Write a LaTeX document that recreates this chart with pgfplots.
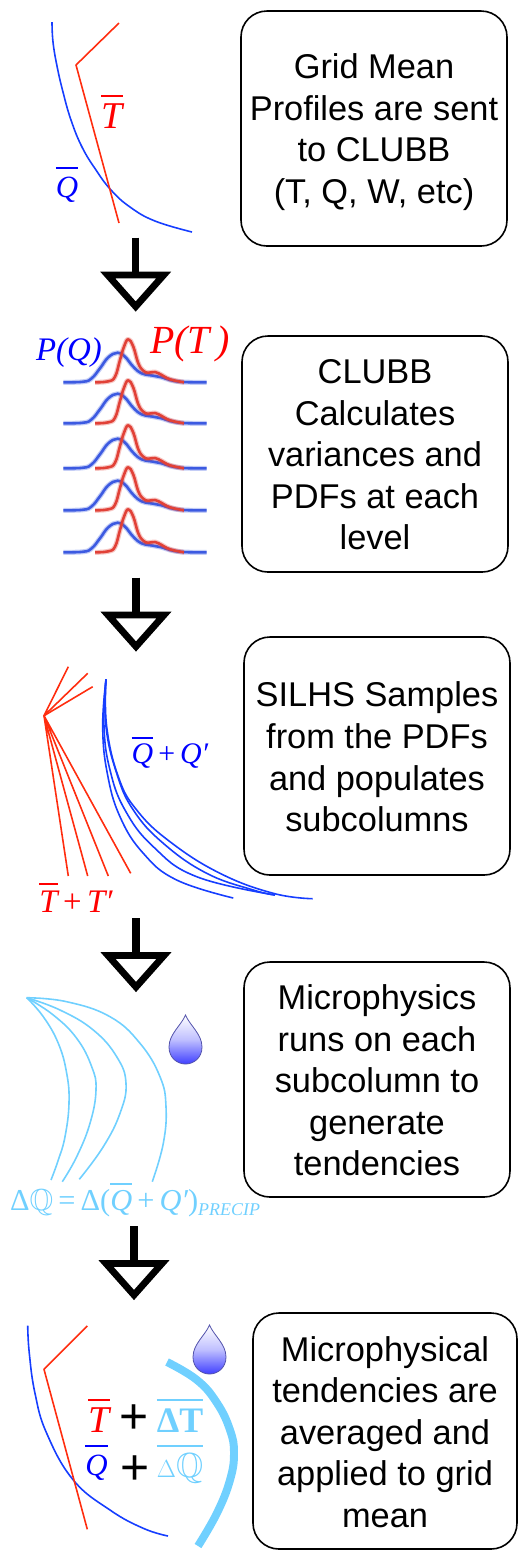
\documentclass[border=0pt]{standalone}
\usepackage{fontspec}
\usepackage{amssymb}
\usepackage{pgfplots}
\usepackage{pgfplotstable}
\pgfplotsset{compat=1.18}
\setmainfont{Liberation Sans}
\newfontfamily\ser{Liberation Serif}
\definecolor{qblue}{RGB}{22,62,255}
\definecolor{tred}{RGB}{255,45,15}
\definecolor{lblue}{RGB}{0,0,255}
\definecolor{lred}{RGB}{255,0,0}
\definecolor{cyanl}{RGB}{112,208,255}
\definecolor{pdfb}{RGB}{60,90,225}
\definecolor{pdfr}{RGB}{225,65,55}
\newcommand\sz[1]{\fontsize{#1}{#1}\selectfont}
\newcommand\ov[2][.75em]{\leavevmode\vbox{\hrule height .055em\kern .07em\hbox{\vrule height #1 width 0pt #2}}}
\newcommand\mi[1]{{\ser\itshape #1}}

\pgfplotstableread{
x y
63.3 382.3
83.3 381.7
91.7 378.3
100 368.3
108.3 357.3
117.7 352.7
125 356.7
133.3 366.7
141.7 373.3
153.3 375.7
161.7 377.3
170 380
183.3 382
206.7 382.3
}\pdfq
\pgfplotstableread{
x y
95 382.3
108.3 381.3
115 376.7
120 360
124 346.7
128.3 339.3
133.3 346.7
138.3 363.3
143.3 370.7
148.3 372.7
155 372
161.7 375
170 379.3
184 382.3
}\pdft
\pgfplotstableread{
x y
0 0
0 37
}\stem
\pgfplotstableread{
x y
-28 37.5
28 37.5
0 69
}\head

\newcommand\bx[6][1]{%
  \draw[black,line width=1.6pt,rounded corners=26pt] (axis cs:#2,#3) rectangle (axis cs:#4,#5);
  \node[align=center,inner sep=0pt,font=\fontsize{34.5}{41.7}\selectfont] at (axis cs:{(#2+#4)/2},{(#3+#5)/2+#1}) {#6};
}
\newcommand\arrowdown[2]{% x of stem, top of stem
  \addplot[black,line width=7.4pt,line cap=butt] table[x expr=\thisrow{x}+#1,y expr=\thisrow{y}+#2] {\stem};
  \addplot[black,line width=6.8pt,line join=miter,miter limit=10,fill=white] table[x expr=\thisrow{x}+#1,y expr=\thisrow{y}+#2] {\head} -- cycle;
}
\newcommand\drop[2]{%
  \shade[top color=white,bottom color=blue!75!white,middle color=blue!25!white,draw=blue!35!gray,line width=0.8pt,shift={(axis cs:#1,#2)}]
    (0,0) .. controls (-4bp,-10bp) and (-16.5bp,-19bp) .. (-16.5bp,-32bp)
    .. controls (-16.5bp,-43bp) and (-8bp,-49bp) .. (0,-49bp)
    .. controls (8bp,-49bp) and (16.5bp,-43bp) .. (16.5bp,-32bp)
    .. controls (16.5bp,-19bp) and (4bp,-10bp) .. (0,0) -- cycle;
}
\newcommand\pdfrow[1]{%
  \addplot[pdfb,opacity=.3,line width=5pt,smooth] table[x=x,y expr=\thisrow{y}+#1] {\pdfq};
  \addplot[pdfb,line width=2.6pt,smooth] table[x=x,y expr=\thisrow{y}+#1] {\pdfq};
  \addplot[pdfr,opacity=.3,line width=5pt,smooth] table[x=x,y expr=\thisrow{y}+#1] {\pdft};
  \addplot[pdfr,line width=2.6pt,smooth] table[x=x,y expr=\thisrow{y}+#1] {\pdft};
}

\begin{document}
\begin{tikzpicture}
\useasboundingbox (0,0) rectangle (518bp,1550bp);
\begin{axis}[
  at={(0,0)},anchor=south west,
  scale only axis,width=518bp,height=1550bp,
  xmin=0,xmax=518,ymin=0,ymax=1550,y dir=reverse,
  hide axis,clip=false,
  no markers,
  every axis plot/.append style={line join=round,tension=.72},
]
% panel 1
\addplot[qblue,line width=1.6pt,smooth] coordinates {(52,22) (53,42) (57,66) (63,92) (71,120) (82,147) (96,170) (111,190) (130,207) (155,221) (192,232)};
\addplot[tred,line width=1.6pt] coordinates {(119,23) (76,65) (119,223)};
\node[lred,font=\sz{38},inner sep=0pt,anchor=base] at (axis cs:112,128) {\ov{\mi{T}}};
\node[lblue,font=\sz{31},inner sep=0pt,anchor=base] at (axis cs:67,197) {\ov[.85em]{\mi{Q}}};
\bx[3.5]{241}{11}{507}{246}{Grid Mean\\Profiles are sent\\to CLUBB\\(T, Q, W, etc)}
\arrowdown{135.7}{237.5}

% panel 2
\pdfrow{0}
\pdfrow{41}
\pdfrow{86}
\pdfrow{128}
\pdfrow{170}
\node[lblue,font=\sz{33},inner sep=0pt,anchor=base] at (axis cs:69,360) {\mi{P(Q)}};
\node[lred,font=\sz{40},inner sep=0pt,anchor=base] at (axis cs:190,353) {\mi{P(T\,)}};
\bx{242}{336}{508}{572}{CLUBB\\Calculates\\variances and\\PDFs at each\\level}
\arrowdown{136}{577.5}

% panel 3
\addplot[tred,line width=1.6pt] coordinates {(68.3,666.7) (44,715.7) (87.7,673.3)};
\addplot[tred,line width=1.6pt] coordinates {(92.7,686.7) (44,715.7)};
\addplot[tred,line width=1.6pt] coordinates {(68.3,876) (44,715.7) (87.7,876)};
\addplot[tred,line width=1.6pt] coordinates {(108.3,876) (44,715.7) (130.7,873.3)};
\addplot[qblue,line width=1.6pt,smooth] coordinates {(106,679.3) (102.7,726.7) (107.3,773.3) (120,816.7) (143.3,853.3) (176.7,880) (233.3,898)};
\addplot[qblue,line width=1.6pt,smooth] coordinates {(106,679.3) (104,726.7) (110,770) (125,810) (153.3,846.7) (196.7,876.7) (275,895)};
\addplot[qblue,line width=1.6pt,smooth] coordinates {(106,679.3) (106,726.7) (116.7,773.3) (133.3,810) (163.3,843.3) (206.7,873.3) (253.3,890) (275,895)};
\addplot[qblue,line width=1.6pt,smooth] coordinates {(106,679.3) (106.7,726.7) (118.3,776.7) (136.7,810) (170,841.7) (220,873.3) (273.3,893.3) (312.7,898.7)};
\node[lblue,font=\sz{30},inner sep=0pt,anchor=base] at (axis cs:170,763) {\ov{\mi{Q}}\,{\ser+}\,\mi{Q′}};
\node[lred,font=\sz{33},inner sep=0pt,anchor=base] at (axis cs:76,912) {\ov{\mi{T}}\,{\ser+}\,\mi{T′}};
\bx{244}{637}{510}{875}{SILHS Samples\\from the PDFs\\and populates\\subcolumns}
\arrowdown{136}{918}

% panel 4
\addplot[cyanl,line width=1.6pt,smooth] coordinates {(26.7,997.7) (43.3,1016.7) (58.3,1043.3) (66.7,1073.3) (69,1103.3) (65,1136.7) (58.3,1160) (51,1180)};
\addplot[cyanl,line width=1.6pt,smooth] coordinates {(26.7,997.7) (53.3,1015) (76.7,1038.3) (91.7,1066.7) (96,1090) (90,1123.3) (76.7,1156.7) (62.3,1181.7)};
\addplot[cyanl,line width=1.6pt,smooth] coordinates {(26.7,997.7) (60,1010) (93.3,1030) (116.7,1056.7) (126,1083.3) (120,1113.3) (103.3,1146.7) (79.3,1179.3)};
\addplot[cyanl,line width=1.6pt,smooth] coordinates {(26.7,997.7) (66.7,1001.7) (110,1016.7) (140,1043.3) (160,1076.7) (166,1106.7) (163.3,1143.3) (152.3,1181.7)};
\drop{185.5}{1015}
\node[cyanl,font=\sz{30.5},inner sep=0pt,anchor=base west] at (axis cs:10,1210) {{\ser Δ}$\mathbb{Q}$\,{\ser=}\,{\ser Δ(}\ov{\mi{Q}}\,{\ser+}\,\mi{Q′}{\ser)}\raisebox{-5pt}{\sz{18}\mi{PRECIP}}};
\bx{244}{962}{510}{1197}{Microphysics\\runs on each\\subcolumn to\\generate\\tendencies}
\arrowdown{134}{1226}

% panel 5
\addplot[qblue,line width=1.6pt,smooth] coordinates {(27.7,1325.7) (29.3,1353.3) (35,1393.3) (46.7,1433.3) (73.3,1480) (110,1510) (143.3,1528.3) (168,1536)};
\addplot[tred,line width=1.6pt] coordinates {(87.3,1326) (44,1369.3) (87.3,1529.3)};
\addplot[cyanl,line width=8pt,smooth] coordinates {(167,1362) (197,1380) (217,1403) (230,1430) (234,1453) (230,1480) (217,1513) (198,1546)};
\drop{209.5}{1325}
\node[lred,font=\sz{38},inner sep=0pt,anchor=base] at (axis cs:99,1432) {\ov{\mi{T}}};
\node[black,font=\sz{50},inner sep=0pt] at (axis cs:133.7,1419) {+};
\node[cyanl,font=\sz{36},inner sep=0pt,anchor=base] at (axis cs:180,1432) {\ov[.8em]{\ser\bfseries ΔT}};
\node[lblue,font=\sz{31},inner sep=0pt,anchor=base] at (axis cs:96.5,1475) {\ov[.85em]{\mi{Q}}};
\node[black,font=\sz{50},inner sep=0pt] at (axis cs:135.3,1470) {+};
\node[cyanl,font=\sz{35},inner sep=0pt,anchor=base] at (axis cs:180,1477) {\ov[.8em]{$\Delta\mathbb{Q}$}};
\bx{253}{1313}{517}{1549}{Microphysical\\tendencies are\\averaged and\\applied to grid\\mean}
\end{axis}
\end{tikzpicture}
\end{document}
